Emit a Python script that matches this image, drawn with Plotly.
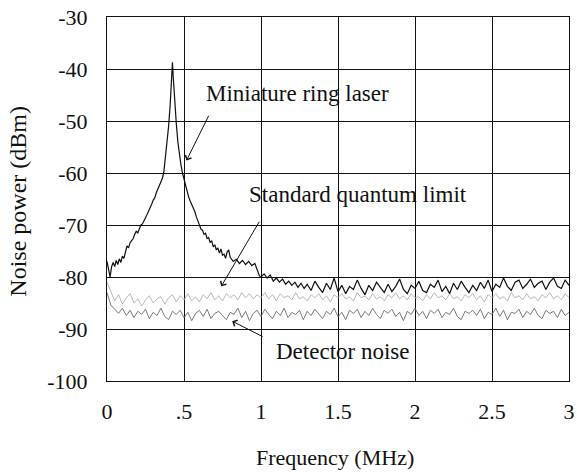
import numpy as np
import plotly.graph_objects as go

# ---------------- data ----------------
x_tickvals = [0, 0.5, 1, 1.5, 2, 2.5, 3]
x_ticktext = ["0", ".5", "1", "1.5", "2", "2.5", "3"]
y_tickvals = [-30, -40, -50, -60, -70, -80, -90, -100]
y_ticktext = ["-30", "-40", "-50", "-60", "-70", "-80", "-90", "-100"]

# Miniature ring laser: peak region (read point by point)
laser_f_main = [
    0.000, 0.010, 0.020, 0.030, 0.040, 0.050, 0.060, 0.070, 0.080, 0.090,
    0.100, 0.110, 0.120, 0.130, 0.140, 0.150, 0.160, 0.170, 0.180, 0.190,
    0.200, 0.210, 0.220, 0.230, 0.240, 0.250, 0.260, 0.270, 0.280, 0.290,
    0.300, 0.310, 0.320, 0.330, 0.340, 0.350, 0.360, 0.370, 0.380, 0.390,
    0.400, 0.410, 0.420, 0.425, 0.430, 0.440, 0.450, 0.460, 0.470, 0.480,
    0.490, 0.500, 0.510, 0.520, 0.530, 0.540, 0.550, 0.560, 0.570, 0.580,
    0.590, 0.600, 0.610, 0.620, 0.630, 0.640, 0.650, 0.660, 0.670, 0.680,
    0.690, 0.700, 0.710, 0.720, 0.730, 0.740, 0.750, 0.760, 0.770, 0.780,
    0.790, 0.800, 0.820, 0.840, 0.860, 0.880, 0.900, 0.920, 0.940, 0.960,
    0.980, 0.990, 1.000, 1.020, 1.040, 1.060, 1.080, 1.100, 1.120, 1.140,
    1.160, 1.180, 1.200, 1.220, 1.240, 1.260, 1.280,
]
laser_db_main = [
    -77.0, -78.5, -80.0, -78.0, -77.2, -78.0, -76.8, -77.6, -76.5, -77.2,
    -76.0, -76.4, -75.2, -74.0, -74.4, -73.4, -73.0, -72.6, -71.8, -71.2,
    -71.5, -70.6, -70.0, -69.8, -69.0, -68.6, -68.0, -67.4, -66.6, -66.0,
    -65.2, -64.8, -63.8, -63.0, -62.6, -61.8, -61.0, -59.6, -57.0, -54.5,
    -51.0, -47.0, -40.5, -38.7, -41.5, -46.5, -50.5, -54.0, -56.5, -58.4,
    -60.0, -61.2, -62.6, -63.4, -64.6, -65.4, -66.0, -66.8, -67.4, -68.4,
    -69.2, -69.8, -70.8, -71.0, -71.8, -71.6, -72.6, -72.4, -73.4, -73.0,
    -74.2, -73.8, -74.8, -74.4, -75.4, -74.6, -75.8, -75.6, -76.4, -75.2,
    -74.8, -76.2, -77.0, -76.6, -77.4, -76.8, -77.6, -77.0, -77.8, -77.4,
    -78.8, -79.8, -80.0, -79.4, -80.2, -79.6, -80.8, -80.2, -81.0, -80.4,
    -81.4, -80.8, -81.6, -81.0, -82.0, -81.2, -82.2,
]
# Laser tail, 1.300 .. 3.000 MHz every 0.025 MHz
laser_db_tail = [
    -81.4, -82.6, -80.8, -82.0, -83.0, -81.2, -82.4, -80.2, -82.8, -81.6,
    -83.2, -81.8, -82.4, -80.6, -82.2, -83.4, -81.6, -82.6, -81.0, -82.0,
    -83.0, -81.4, -82.8, -81.8, -80.4, -82.4, -83.2, -81.6, -82.2, -80.8,
    -82.6, -83.0, -81.4, -82.0, -80.6, -82.8, -81.8, -83.2, -81.2, -82.4,
    -80.8, -82.0, -83.0, -81.6, -82.6, -81.0, -82.2, -80.6, -82.8, -81.4,
    -82.0, -80.2, -81.8, -82.6, -81.0, -80.6, -82.2, -81.4, -80.4, -82.0,
    -81.2, -80.8, -82.4, -81.0, -80.2, -81.8, -82.2, -80.6, -81.6,
]
laser_f_tail = list(np.round(1.3 + 0.025 * np.arange(len(laser_db_tail)), 3))

# Standard quantum limit and detector noise: 0 .. 3 MHz every 0.025 MHz
sql_db = [
    -81.0, -83.0, -84.6, -83.4, -85.2, -84.0, -83.2, -85.0, -84.2, -85.6,
    -84.4, -83.6, -85.0, -84.2, -83.8, -85.2, -84.0, -83.4, -84.8, -83.6,
    -84.4, -83.2, -84.6, -83.8, -84.8, -83.4, -84.2, -83.0, -84.4, -83.6,
    -84.6, -83.2, -84.0, -83.4, -84.4, -83.0, -84.0, -83.2, -84.2, -83.4,
    -84.0,
    -83.0, -84.2, -83.4, -84.6, -83.2, -84.0, -83.6, -84.4, -83.0, -84.2,
    -83.8, -84.6, -83.4, -84.0, -83.2, -84.4, -83.6, -84.8, -83.4, -84.0,
    -83.2, -84.2, -83.8, -84.6, -83.0, -84.0, -83.6, -84.4, -83.2, -84.2,
    -83.8, -84.6, -83.4, -84.0, -83.0, -84.2, -83.6, -84.4, -83.2, -84.0,
    -83.8, -84.6, -83.4, -84.2, -83.0, -84.0, -83.6, -84.4, -83.2, -84.2,
    -83.8, -84.6, -83.4, -84.0, -83.2, -84.4, -83.6, -84.8, -83.4, -84.0,
    -83.2, -84.2, -83.8, -84.6, -83.0, -84.0, -83.6, -84.4, -83.2, -84.2,
    -83.8, -84.6, -83.4, -84.0, -83.0, -84.2, -83.6, -84.4, -83.2, -84.0,
]
det_db = [
    -83.0, -85.4, -86.2, -87.0, -86.0, -87.4, -86.4, -87.8, -86.6, -87.2,
    -86.2, -88.0, -86.8, -87.4, -86.0, -87.6, -88.2, -86.6, -87.2, -86.4,
    -87.8, -86.8, -88.4, -87.0, -86.4, -87.6, -86.2, -88.0, -87.0, -86.6,
    -87.4, -88.2, -86.8, -87.2, -86.0, -87.8, -86.6, -88.4, -87.0, -86.4,
    -87.6, -86.2, -87.2, -88.0, -86.6, -87.4, -86.0, -87.8, -86.8, -87.2,
    -86.4, -88.2, -86.6, -87.4, -86.2, -87.0, -88.0, -86.6, -87.2, -86.0,
    -87.6, -86.8, -88.2, -86.4, -87.0, -86.2, -87.8, -86.6, -87.4, -86.0,
    -87.2, -88.0, -86.4, -87.0, -86.2, -87.6, -86.8, -88.4, -86.6, -87.2,
    -86.0, -87.4, -86.6, -88.0, -86.4, -87.0, -86.2, -87.8, -86.8, -87.2,
    -86.0, -87.6, -88.2, -86.6, -87.0, -86.4, -87.4, -86.2, -88.0, -86.8,
    -87.2, -86.0, -87.6, -86.4, -88.2, -86.8, -87.0, -86.2, -87.8, -86.6,
    -87.2, -86.0, -87.4, -88.0, -86.4, -87.0, -86.6, -87.8, -86.2, -87.4,
    -86.8,
]
noise_f = list(np.round(0.025 * np.arange(len(det_db)), 3))

laser_f = laser_f_main + laser_f_tail
laser_db = laser_db_main + laser_db_tail

# ---------------- figure ----------------
FONT = "Nimbus Roman"
INK = "#111111"
fig = go.Figure()
fig.add_trace(go.Scatter(x=noise_f, y=det_db, mode="lines",
                         line=dict(color="#6a6a6a", width=0.9),
                         name="Detector noise", hoverinfo="skip"))
fig.add_trace(go.Scatter(x=noise_f, y=sql_db, mode="lines",
                         line=dict(color="#b0b0b0", width=0.9),
                         name="Standard quantum limit", hoverinfo="skip"))
fig.add_trace(go.Scatter(x=laser_f, y=laser_db, mode="lines",
                         line=dict(color=INK, width=1.2),
                         name="Miniature ring laser", hoverinfo="skip"))

axis_common = dict(showgrid=True, gridcolor=INK, gridwidth=1,
                   showline=True, linecolor=INK, linewidth=1.2,
                   mirror=True, zeroline=False, ticks="", automargin=False,
                   ticklabeloverflow="allow",
                   tickfont=dict(family=FONT, size=22, color=INK))

fig.update_xaxes(range=[0, 3], tickvals=x_tickvals, ticktext=x_ticktext,
                 ticklabelstandoff=10, **axis_common)
fig.update_yaxes(range=[-100, -30], tickvals=y_tickvals, ticktext=y_ticktext,
                 ticklabelstandoff=14, **axis_common)

ann_font = dict(family=FONT, size=23, color=INK)
annotations = [
    dict(text="Miniature ring laser", x=0.632, y=-44.7, xanchor="left",
         yanchor="middle", showarrow=False, font=ann_font),
    dict(text="Standard quantum limit", x=0.91, y=-64.1, xanchor="left",
         yanchor="middle", showarrow=False, font=ann_font),
    dict(text="Detector noise", x=1.084, y=-94.3, xanchor="left",
         yanchor="middle", showarrow=False, font=ann_font),
    # arrows
    dict(x=0.516, y=-57.6, ax=0.665, ay=-48.7, axref="x", ayref="y",
         text="", showarrow=True, arrowhead=4, arrowsize=1.3,
         arrowwidth=1, arrowcolor=INK),
    dict(x=0.742, y=-81.8, ax=0.994, ay=-69.1, axref="x", ayref="y",
         text="", showarrow=True, arrowhead=4, arrowsize=1.3,
         arrowwidth=1, arrowcolor=INK),
    dict(x=0.813, y=-88.5, ax=1.02, ay=-91.6, axref="x", ayref="y",
         text="", showarrow=True, arrowhead=4, arrowsize=1.3,
         arrowwidth=1, arrowcolor=INK),
    # axis titles
    dict(text="Frequency (MHz)", xref="paper", yref="paper", x=0.4935, y=-0.2115,
         xanchor="center", yanchor="middle", showarrow=False,
         font=dict(family=FONT, size=22, color=INK)),
    dict(text="Noise power (dBm)", xref="paper", yref="paper", x=-0.193, y=0.495,
         xanchor="center", yanchor="middle", showarrow=False, textangle=-90,
         font=dict(family=FONT, size=24, color=INK)),
]

fig.update_layout(
    width=577, height=472,
    margin=dict(l=107, r=8, t=17, b=91),
    paper_bgcolor="white", plot_bgcolor="white",
    showlegend=False,
    annotations=annotations,
)

fig.write_html("out.html",
               config={"displayModeBar": False},
               post_script="document.body.style.margin='0';document.body.style.overflow='hidden';")
